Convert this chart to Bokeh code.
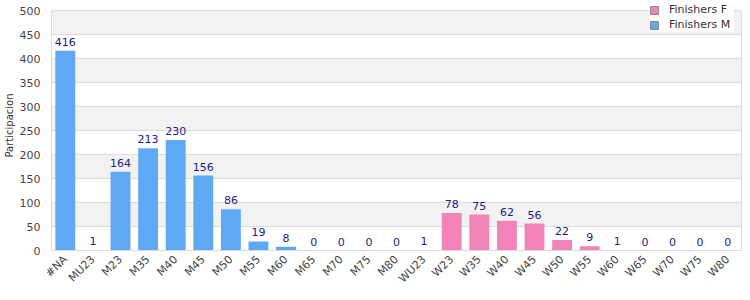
from bokeh.plotting import figure
from bokeh.models import (ColumnDataSource, FactorRange, Range1d, SingleIntervalTicker, Legend,
                          LegendItem, LinearAxis, FixedTicker)
from bokeh.embed import file_html
from bokeh.resources import INLINE
from bokeh.core.properties import value
import math

categories = ["#NA", "MU23", "M23", "M35", "M40", "M45", "M50", "M55", "M60", "M65",
              "M70", "M75", "M80", "WU23", "W23", "W35", "W40", "W45", "W50", "W55",
              "W60", "W65", "W70", "W75", "W80"]
m_categories = categories[:13]
m_values = [416, 1, 164, 213, 230, 156, 86, 19, 8, 0, 0, 0, 0]
f_categories = categories[13:]
f_values = [1, 78, 75, 62, 56, 22, 9, 1, 0, 0, 0, 0]

Y_MAX = 500
BLUE = "#5fa8f3"
PINK = "#f283b9"
LABEL = "#1c1c84"
GRID = "#dcdcdc"
FONT = "DejaVu Sans"

# frame reaches the top edge so the legend can sit above the 500 line (as in the reference)
FRAME_H = 250
PLOT_H = 240
y_end = Y_MAX * FRAME_H / PLOT_H

p = figure(width=750, height=300, x_range=FactorRange(*categories, range_padding=0),
           y_range=Range1d(0, y_end), output_backend="svg", toolbar_location=None,
           min_border_left=10, min_border_right=9, min_border_top=0, min_border_bottom=50)
p.background_fill_color = "white"
p.border_fill_color = "white"
p.outline_line_color = None

src_m = ColumnDataSource(dict(x=m_categories, y=m_values, t=[str(v) for v in m_values]))
src_f = ColumnDataSource(dict(x=f_categories, y=f_values, t=[str(v) for v in f_values]))

p.vbar(x="x", top="y", width=0.72, source=src_m, fill_color=BLUE, line_color=None)
p.vbar(x="x", top="y", width=0.72, source=src_f, fill_color=PINK, line_color=None)

for src in (src_m, src_f):
    p.text(x="x", y="y", text="t", source=src, text_align="center", text_baseline="bottom",
           y_offset=-5, text_font=value(FONT), text_font_size="11px", text_color=LABEL)

# legend proxies (not drawn on the plot: NaN height)
lf = p.vbar(x=[categories[0]], top=[float("nan")], width=0.72, fill_color=PINK, line_color="#888888")
lm = p.vbar(x=[categories[0]], top=[float("nan")], width=0.72, fill_color=BLUE, line_color="#888888")

legend = Legend(items=[LegendItem(label="Finishers F", renderers=[lf]),
                       LegendItem(label="Finishers M", renderers=[lm])],
                location=(598, 218), border_line_color=None, background_fill_color="white",
                background_fill_alpha=1, label_text_font=FONT, label_text_font_size="11px",
                label_text_color="#333333", glyph_width=10, glyph_height=10, spacing=0,
                padding=3, label_standoff=10, label_height=15, label_width=65)
p.add_layout(legend)

p.yaxis.ticker = SingleIntervalTicker(interval=50)
p.yaxis.bounds = (0, Y_MAX)
p.yaxis.axis_label = "Participacion"
p.yaxis.axis_label_text_font = FONT
p.yaxis.axis_label_text_font_size = "10px"
p.yaxis.axis_label_text_font_style = "normal"
p.yaxis.axis_label_text_color = "#333333"
p.yaxis.axis_label_standoff = 2
p.yaxis.major_label_text_font = FONT
p.yaxis.major_label_text_font_size = "11px"
p.yaxis.major_label_text_color = "#444444"
p.yaxis.axis_line_color = GRID
p.yaxis.major_tick_line_color = None
p.yaxis.minor_tick_line_color = None
p.yaxis.major_tick_out = 0
p.yaxis.major_tick_in = 0
p.yaxis.major_label_standoff = 7

right = LinearAxis(bounds=(0, Y_MAX), ticker=FixedTicker(ticks=[]),
                   axis_line_color=GRID, major_tick_line_color=None, minor_tick_line_color=None,
                   major_tick_out=0, major_tick_in=0, major_label_standoff=0)
p.add_layout(right, "right")

p.xaxis.major_label_orientation = math.pi / 4
p.xaxis.major_label_text_font = FONT
p.xaxis.major_label_text_font_size = "11px"
p.xaxis.major_label_text_color = "#444444"
p.xaxis.axis_line_color = GRID
p.xaxis.major_tick_line_color = None
p.xaxis.minor_tick_line_color = None
p.xaxis.major_tick_out = 0
p.xaxis.major_tick_in = 0
p.xaxis.major_label_standoff = 7

p.xgrid.grid_line_color = None
p.ygrid.grid_line_color = GRID
p.ygrid.band_fill_color = "#f2f2f2"
p.ygrid.band_fill_alpha = 1

open("out.html", "w").write(file_html(p, INLINE))
